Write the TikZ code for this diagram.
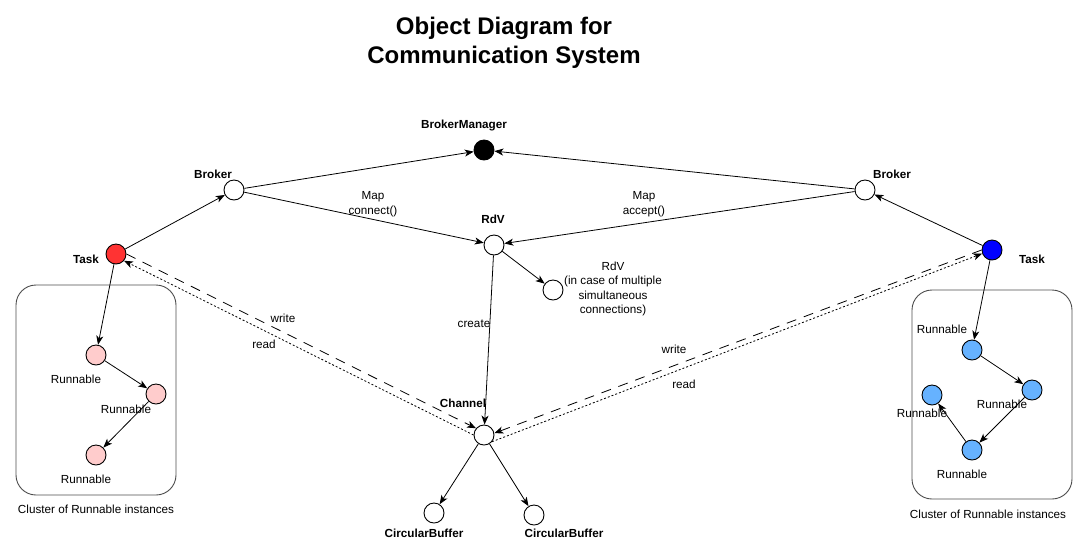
\documentclass[tikz,border=0pt]{standalone}
\usepackage{fontspec}
\setmainfont{Liberation Sans}
\usetikzlibrary{arrows.meta}
\definecolor{taskred}{HTML}{FF3333}
\definecolor{taskblue}{HTML}{0000FF}
\definecolor{runpink}{HTML}{FFCCCC}
\definecolor{runblue}{HTML}{66B2FF}

\begin{document}
\begin{tikzpicture}[x=1pt, y=-1pt,
    obj/.style={circle, draw, line width=.9, minimum size=20, inner sep=0},
    txt/.style={font=\fontsize{11.7}{14.5}\selectfont, align=center, inner sep=0},
    btxt/.style={txt, font=\fontsize{11.7}{14.5}\selectfont\bfseries},
    link/.style={line width=.8, -{Stealth[length=9, width=7, inset=2.5]}},
    write/.style={link, dash pattern=on 10 off 8},
    read/.style={link, dash pattern=on 2 off 2}]
    \useasboundingbox (0, 0) rectangle (1084, 550);

    \node[font=\fontsize{24}{29}\selectfont\bfseries, align=center] (title) at (504, 43) {Object Diagram for\\Communication System};

    \draw[black!70, line width=.9, rounded corners=20] (16, 285) rectangle (176, 495);
    \draw[black!70, line width=.9, rounded corners=20] (912, 290) rectangle (1072, 499);
    \node[txt] (lclus) at (96, 509) {Cluster of Runnable instances};
    \node[txt] (rclus) at (988, 514) {Cluster of Runnable instances};

    \node[obj, fill=black] (manager) at (484, 150) {};
    \node[obj] (lbroker) at (234, 190) {};
    \node[obj] (rbroker) at (865, 190) {};
    \node[obj] (rdv) at (494, 245) {};
    \node[obj] (rdv2) at (553, 290) {};
    \node[obj, fill=taskred] (ltask) at (116, 254) {};
    \node[obj, fill=taskblue] (rtask) at (992, 250) {};
    \node[obj] (channel) at (484, 435) {};
    \node[obj] (buf1) at (434, 513) {};
    \node[obj] (buf2) at (534, 515) {};

    \node[obj, fill=runpink] (lrun1) at (96, 355) {};
    \node[obj, fill=runpink] (lrun2) at (156, 394) {};
    \node[obj, fill=runpink] (lrun3) at (96, 455) {};
    \node[obj, fill=runblue] (rrun1) at (972, 350) {};
    \node[obj, fill=runblue] (rrun2) at (1032, 390) {};
    \node[obj, fill=runblue] (rrun3) at (972, 450) {};
    \node[obj, fill=runblue] (rrun4) at (932, 395) {};

    \node[btxt] (managerl) at (464, 125) {BrokerManager};
    \node[btxt] (lbrokerl) at (213, 174) {Broker};
    \node[btxt] (rbrokerl) at (892, 174) {Broker};
    \node[btxt] (rdvl) at (493, 219) {RdV};
    \node[txt] (rdv2l) at (613, 289) {RdV\\(in case of multiple\\simultaneous\\connections)};
    \node[btxt] (ltaskl) at (86, 259) {Task};
    \node[btxt] (rtaskl) at (1032, 259) {Task};
    \node[btxt] (channell) at (463, 403) {Channel};
    \node[btxt] (buf1l) at (424, 533) {CircularBuffer};
    \node[btxt] (buf2l) at (564, 533) {CircularBuffer};
    \node[txt] (lrun1l) at (76, 379) {Runnable};
    \node[txt] (lrun2l) at (126, 409) {Runnable};
    \node[txt] (lrun3l) at (86, 479) {Runnable};
    \node[txt] (rrun1l) at (942, 329) {Runnable};
    \node[txt] (rrun2l) at (1002, 404) {Runnable};
    \node[txt] (rrun4l) at (922, 413) {Runnable};
    \node[txt] (rrun3l) at (962, 474) {Runnable};

    \node[txt] (connectl) at (373, 204) {Map\\connect()};
    \node[txt] (acceptl) at (644, 204) {Map\\accept()};
    \node[txt] (createl) at (474, 324) {create};
    \node[txt] (lwritel) at (283, 318) {write};
    \node[txt] (lreadl) at (264, 344) {read};
    \node[txt] (rwritel) at (674, 349) {write};
    \node[txt] (rreadl) at (684, 384) {read};

    \draw[link] (ltask) -- (lbroker);
    \draw[link] (lbroker) -- (manager);
    \draw[link] (rbroker) -- (manager);
    \draw[link] (rtask) -- (rbroker);
    \draw[link] (lbroker) -- (rdv);
    \draw[link] (rbroker) -- (rdv);
    \draw[link] (rdv) -- (rdv2);
    \draw[link] (rdv) -- (channel);
    \draw[link] (channel) -- (buf1);
    \draw[link] (channel) -- (buf2);

    \draw[link] (ltask) -- (lrun1);
    \draw[link] (lrun1) -- (lrun2);
    \draw[link] (lrun2) -- (lrun3);
    \draw[link] (rtask) -- (rrun1);
    \draw[link] (rrun1) -- (rrun2);
    \draw[link] (rrun2) -- (rrun3);
    \draw[link] (rrun3) -- (rrun4);

    \draw[write] (ltask.east) -- (channel.140);
    \draw[read] (channel.west) -- (ltask.-40);
    \draw[write] (rtask.west) -- (channel.10);
    \draw[read] (channel.-40) -- (rtask.200);
  \end{tikzpicture}
\end{document}
